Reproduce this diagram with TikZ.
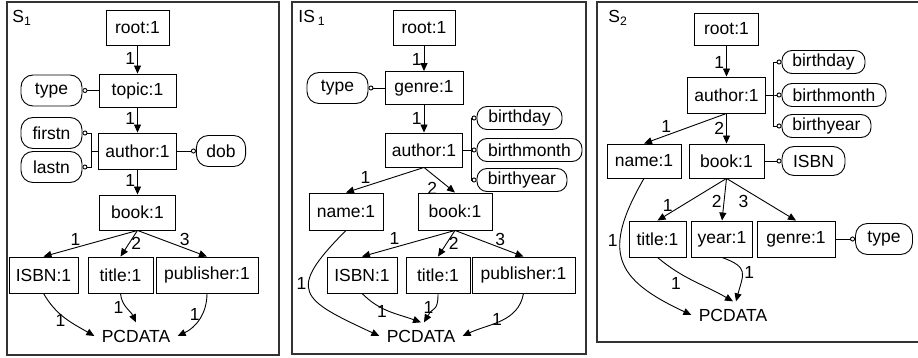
\documentclass[tikz,border=0pt]{standalone}
\usepackage{fontspec}
\setmainfont{Liberation Sans}
\usetikzlibrary{arrows.meta}

\begin{document}
\begin{tikzpicture}[x=1pt,y=1pt,
    font=\fontsize{17.5}{20}\selectfont,
    line width=0.9pt, inner sep=2pt,
    >={Triangle[length=8pt,width=7pt]},
    elem/.style={draw,rectangle,minimum height=35,inner xsep=6,inner ysep=2},
    attr/.style={draw,rounded corners=12,minimum height=31,inner xsep=10,inner ysep=2},
    sattr/.style={attr,minimum height=23,rounded corners=10},
    attrline/.style={-{Circle[open,length=5pt]}},
    frame/.style={line width=1.2pt,black!80}]
   \useasboundingbox (0,0) rectangle (918,-358);

   % S1
   \node[anchor=north west] (s1) at (10,-8) {S\textsubscript{1}};
   \node[elem,minimum width=63] (root1) at (137.5,-27.5) {root:1};
   \node[elem,minimum width=77,minimum height=33] (topic1) at (137.5,-90.5) {topic:1};
   \node[attr,minimum width=61] (type1) at (51.5,-90.5) {type};
   \node[elem,minimum width=78,minimum height=36] (author1) at (137.5,-151) {author:1};
   \node[attr,minimum width=61] (firstn1) at (51.5,-133) {firstn};
   \node[attr,minimum width=61] (lastn1) at (51.5,-167) {lastn};
   \node[attr,minimum width=48] (dob1) at (221,-151) {dob};
   \node[elem,minimum width=76] (book1) at (137.5,-212.5) {book:1};
   \node[elem,minimum width=69,minimum height=36] (isbn1) at (43.5,-275) {ISBN:1};
   \node[elem,minimum width=65,minimum height=36] (title1) at (120.5,-275) {title:1};
   \node[elem,minimum width=102,minimum height=36] (pub1) at (207,-275) {publisher:1};
   \node[inner sep=7] (pc1) at (136,-336) {PCDATA};

   \path[->]
    (root1) edge node[left,pos=.45] {1} (topic1)
    (topic1) edge node[left,pos=.45] {1} (author1)
    (author1) edge node[left,pos=.45] {1} (book1)
    (book1.south) edge node[above,pos=.66] {1} (isbn1.north)
                  edge node[right,pos=.5] {2} (title1.north)
                  edge node[above,pos=.68] {3} (pub1.north)
    (isbn1.south) edge[out=-60,in=150] node[left,pos=.55] {1} (pc1.west)
    (title1.south) edge[out=-85,in=115] node[left,pos=.45] {1} (pc1.north)
    (pub1.south) edge[out=-90,in=25] node[left,pos=.4] {1} (pc1.east);
   \draw[attrline] (topic1) -- (type1);
   \draw[attrline] (author1.west) -- ++(-7,0) |- (firstn1.east);
   \draw[attrline] (author1.west) -- ++(-7,0) |- (lastn1.east);
   \draw[attrline] (author1) -- (dob1);

   % IS1
   \node[anchor=north west] (is1) at (296,-8) {IS\,\textsubscript{1}};
   \node[elem,minimum width=62] (root2) at (424,-27.5) {root:1};
   \node[elem,minimum width=78,minimum height=33] (genre2) at (424,-88) {genre:1};
   \node[attr,minimum width=61] (type2) at (337.5,-88) {type};
   \node[elem,minimum width=76,minimum height=34] (author2) at (424,-150) {author:1};
   \node[sattr,minimum width=85] (bday2) at (519.5,-118) {birthday};
   \node[sattr,minimum width=105] (bmonth2) at (529.5,-150) {birthmonth};
   \node[sattr,minimum width=90] (byear2) at (522,-180) {birthyear};
   \node[elem,minimum width=74,minimum height=37] (name2) at (346,-211.5) {name:1};
   \node[elem,minimum width=74,minimum height=37] (book2) at (455,-211.5) {book:1};
   \node[elem,minimum width=70,minimum height=36] (isbn2) at (362,-275) {ISBN:1};
   \node[elem,minimum width=64,minimum height=36] (title2) at (438,-275) {title:1};
   \node[elem,minimum width=103,minimum height=36] (pub2) at (523.5,-275) {publisher:1};
   \node[inner sep=7] (pc2) at (421,-336) {PCDATA};

   \path[->]
    (root2) edge node[left,pos=.55] {1} (genre2)
    (genre2) edge node[left,pos=.5] {1} (author2)
    (author2.south) edge node[above,pos=.75] {1} (name2.north)
                    edge node[below left,pos=.5] {2} (book2.north)
    (book2.south) edge node[above,pos=.65] {1} (isbn2.north)
                  edge node[right,pos=.5] {2} (title2.north)
                  edge node[above,pos=.66] {3} (pub2.north)
    (name2.south) edge[out=-135,in=155,looseness=2] node[left,pos=.4] {1} (pc2.west)
    (isbn2.south) edge[out=-45,in=160] node[left,pos=.5] {1} (pc2.north)
    (title2.south) edge[out=-90,in=60,looseness=1.5] node[left,pos=.4] {1} ([xshift=3]pc2.north)
    (pub2.south) edge[out=-100,in=25] node[left,pos=.45] {1} (pc2.east);
   \draw[attrline] (genre2) -- (type2);
   \draw[attrline] (author2.east) -- ++(9,0) |- (bday2.west);
   \draw[attrline] (author2.east) -- ++(9,0) |- (bmonth2.west);
   \draw[attrline] (author2.east) -- ++(9,0) |- (byear2.west);

   % S2
   \node[anchor=north west] (s2) at (606,-8) {S\textsubscript{2}};
   \node[elem,minimum width=64,minimum height=32] (root3) at (726.5,-29) {root:1};
   \node[elem,minimum width=78,minimum height=36] (author3) at (726.5,-95) {author:1};
   \node[sattr,minimum width=83] (bday3) at (823.5,-62) {birthday};
   \node[sattr,minimum width=104] (bmonth3) at (834,-95) {birthmonth};
   \node[sattr,minimum width=89] (byear3) at (826.5,-126) {birthyear};
   \node[elem,minimum width=74,minimum height=34] (name3) at (644,-161) {name:1};
   \node[elem,minimum width=75,minimum height=34] (book3) at (726.5,-161) {book:1};
   \node[attr,minimum width=63,minimum height=29] (isbn3) at (813.5,-161) {ISBN};
   \node[elem,minimum width=57,minimum height=36] (title3) at (657.5,-239) {title:1};
   \node[elem,minimum width=60,minimum height=36] (year3) at (722,-239) {year:1};
   \node[elem,minimum width=78,minimum height=36] (genre3) at (796,-239) {genre:1};
   \node[attr,minimum width=57] (type3) at (884,-239) {type};
   \node[inner sep=7] (pc3) at (733,-315) {PCDATA};

   \path[->]
    (root3) edge node[left,pos=.55] {1} (author3)
    (author3.south) edge node[above,pos=.73] {1} (name3.north)
                    edge node[left,pos=.5] {2} (book3.north)
    (book3.south) edge node[above,pos=.85] {1} (title3.north)
                  edge node[left,pos=.55] {2} (year3.north)
                  edge node[below left,pos=.35] {3} (genre3.north)
    (name3.south) edge[out=-120,in=155,looseness=1.5] node[left,pos=.35] {1} (pc3.west)
    (title3.south) edge[out=-40,in=150] node[below left,pos=.35] {1} (pc3.north)
    (year3.south) edge[out=-20,in=75,looseness=1.6] node[right,pos=.5] {1} ([xshift=3]pc3.north);
   \draw[attrline] (author3.east) -- ++(7,0) |- (bday3.west);
   \draw[attrline] (author3.east) -- ++(7,0) |- (bmonth3.west);
   \draw[attrline] (author3.east) -- ++(7,0) |- (byear3.west);
   \draw[attrline] (book3) -- (isbn3);
   \draw[attrline] (genre3) -- (type3);

   % frames
   \draw[frame] (7,-2) rectangle (279,-355);
   \draw[frame] (292,-2) rectangle (586,-354);
   \draw[frame] (918,-2) -- (597,-2) -- (597,-342) -- (918,-342);
\end{tikzpicture}
\end{document}
